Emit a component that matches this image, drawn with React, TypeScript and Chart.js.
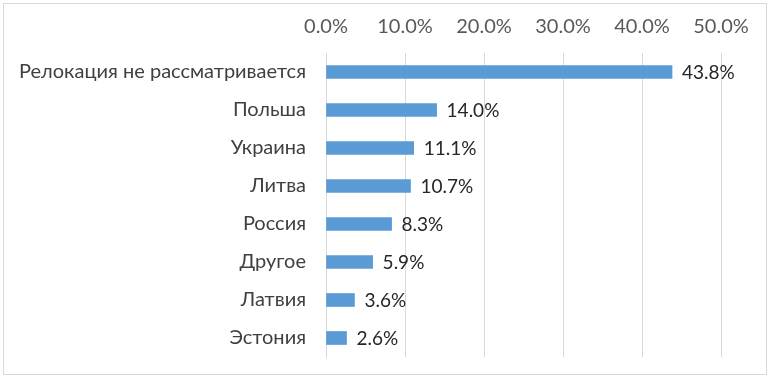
import React, { useEffect, useRef } from "react";
import { Chart, registerables } from "chart.js";

Chart.register(...registerables);

const categories = [
  "Релокация не рассматривается",
  "Польша",
  "Украина",
  "Литва",
  "Россия",
  "Другое",
  "Латвия",
  "Эстония",
];
const values = [43.8, 14.0, 11.1, 10.7, 8.3, 5.9, 3.6, 2.6];
const axisMin = 0;
const axisMax = 50;
const axisStep = 10;

const FONT = "Lato, 'Noto Sans', sans-serif";

const frame = {
  id: "frame",
  beforeDraw(chart: any) {
    const ctx = chart.ctx;
    ctx.save();
    ctx.fillStyle = "#ffffff";
    ctx.fillRect(0, 0, chart.width, chart.height);
    ctx.strokeStyle = "#d9d9d9";
    ctx.lineWidth = 1;
    ctx.strokeRect(3.5, 3.5, chart.width - 7, chart.height - 7);
    ctx.restore();
  },
};

const valueLabels = {
  id: "valueLabels",
  afterDatasetsDraw(chart: any) {
    const ctx = chart.ctx;
    const meta = chart.getDatasetMeta(0);
    ctx.save();
    ctx.font = `19px ${FONT}`;
    ctx.fillStyle = "#262626";
    ctx.textAlign = "left";
    ctx.textBaseline = "middle";
    meta.data.forEach((bar: any, i: number) => {
      const v = chart.data.datasets[0].data[i] as number;
      ctx.fillText(v.toFixed(1) + "%", bar.x + 10, bar.y + 1);
    });
    ctx.restore();
  },
};

export default function App() {
  const ref = useRef<HTMLCanvasElement>(null);
  useEffect(() => {
    if (!ref.current) return;
    const chart = new Chart(ref.current, {
      type: "bar",
      data: {
        labels: categories,
        datasets: [
          {
            data: values,
            backgroundColor: "#5b9bd5",
            borderWidth: 0,
            barThickness: 13,
          },
        ],
      },
      options: {
        indexAxis: "y",
        animation: false,
        responsive: false,
        maintainAspectRatio: false,
        layout: { padding: { left: 0, right: 49, top: 0, bottom: 21 } },
        plugins: { legend: { display: false }, tooltip: { enabled: false } },
        scales: {
          x: {
            position: "top",
            min: axisMin,
            max: axisMax,
            ticks: {
              stepSize: axisStep,
              color: "#595959",
              font: { family: FONT, size: 20 },
              padding: 14,
              callback: (v: any) => Number(v).toFixed(1) + "%",
            },
            grid: { color: "#d9d9d9", drawTicks: false, lineWidth: 1 },
            border: { display: false },
            afterFit: (s: any) => {
              s.height = 53;
            },
          },
          y: {
            ticks: {
              color: "#404040",
              font: { family: FONT, size: 20 },
              padding: 20,
              autoSkip: false,
            },
            grid: { display: false, drawTicks: false },
            border: { display: true, color: "#d9d9d9" },
            afterFit: (s: any) => {
              s.width = 326;
              s.paddingTop = 0;
              s.paddingBottom = 0;
            },
          },
        },
      },
      plugins: [frame, valueLabels],
    });
    return () => chart.destroy();
  }, []);
  return (
    <div style={{ position: "fixed", left: 0, top: 0, width: 770, height: 378 }}>
      <canvas ref={ref} width={770} height={378} style={{ width: 770, height: 378 }} />
    </div>
  );
}
